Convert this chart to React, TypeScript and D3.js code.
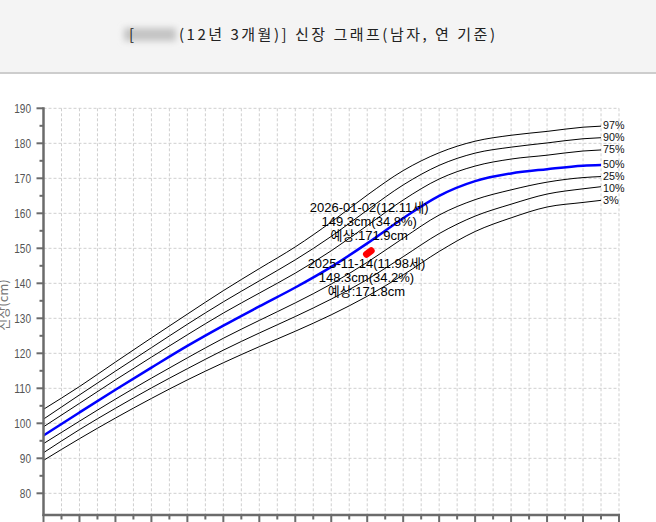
import React from "react";
import * as d3 from "d3";

const AGES = [3, 4, 5, 6, 7, 8, 9, 10, 11, 12, 13, 14, 15, 16, 17, 18, 18.5];
const P3 = [89.4, 95.6, 101.5, 107.1, 112.4, 117.3, 121.9, 126.3, 131.0, 136.3, 142.4, 149.1, 154.8, 158.7, 161.8, 163.1, 163.7];
const P10 = [91.6, 98.2, 104.3, 110.1, 115.6, 120.9, 125.8, 130.5, 135.5, 141.1, 147.6, 154.2, 159.2, 162.6, 165.5, 167.0, 167.6];
const P25 = [94.2, 100.6, 106.9, 112.9, 118.7, 124.3, 129.4, 134.4, 139.8, 146.0, 152.9, 159.5, 163.9, 166.7, 168.9, 170.2, 170.5];
const P50 = [96.5, 103.1, 109.6, 115.9, 122.1, 127.9, 133.4, 138.8, 144.7, 151.4, 158.6, 165.0, 169.2, 171.4, 172.6, 173.6, 173.8];
const P75 = [99.0, 105.7, 112.4, 118.9, 125.3, 131.5, 137.2, 142.9, 149.3, 156.5, 163.8, 169.8, 173.5, 175.5, 176.6, 177.8, 178.1];
const P90 = [101.2, 108.1, 114.9, 121.6, 128.3, 134.7, 140.7, 146.7, 153.4, 160.9, 168.1, 173.7, 177.2, 178.9, 180.1, 181.3, 181.6];
const P97 = [104.0, 110.5, 117.5, 124.4, 131.2, 137.9, 144.2, 150.4, 157.5, 165.2, 172.2, 177.3, 180.6, 182.3, 183.4, 184.6, 184.9];

const SERIES = [
  { label: "97%", values: P97 },
  { label: "90%", values: P90 },
  { label: "75%", values: P75 },
  { label: "50%", values: P50 },
  { label: "25%", values: P25 },
  { label: "10%", values: P10 },
  { label: "3%", values: P3 },
];

const CHILD_AGES = [11.98, 12.11];
const CHILD_HEIGHTS = [148.3, 149.3];
const CHILD_LINES_PREV = ["2025-11-14(11.98세)", "148.3cm(34.2%)", "예상:171.8cm"];
const CHILD_LINES_LAST = ["2026-01-02(12.11세)", "149.3cm(34.8%)", "예상:171.9cm"];

const TITLE_PREFIX = "[";
const TITLE_REST = "(12년 3개월)] 신장 그래프(남자, 연 기준)";
const Y_TITLE = "신장(cm)";

const W = 656;
const H = 522;
const X0 = 43.5;
const X1 = 619;
const Y_TOP = 108.3;
const Y_AXIS = 515;

// narrow width estimate for the condensed bitmap-like font of the original
const narrowLen = (s: string) =>
  s.split("").reduce((acc, c) => acc + (c === "%" ? 10.3 : 5.6), 0);

export default function App() {
  const x = d3.scaleLinear().domain([3, 19]).range([X0, X1]);
  const y = d3.scaleLinear().domain([80, 190]).range([493.3, Y_TOP]);

  const xTicks = d3.range(3, 19.001, 0.5);
  const yMajor = d3.range(80, 190.001, 10);
  const yMinor = d3.range(85, 186, 10);

  const line = d3
    .line<number>()
    .x((_, i) => x(AGES[i]))
    .y((v) => y(v))
    .curve(d3.curveMonotoneX);

  const sans = "'Liberation Sans', sans-serif";
  const kfont = "'Liberation Sans', 'Noto Sans CJK KR', sans-serif";

  const px0 = x(CHILD_AGES[0]);
  const py0 = y(CHILD_HEIGHTS[0]);
  const px1 = x(CHILD_AGES[1]);
  const py1 = y(CHILD_HEIGHTS[1]);
  const lastIdx = AGES.length - 1;

  // end-label positions, pushed apart so they do not collide
  const labelY: number[] = [];
  SERIES.forEach((s, i) => {
    let ly = y(s.values[lastIdx]) - 1.5;
    if (i > 0 && ly < labelY[i - 1] + 12) ly = labelY[i - 1] + 12;
    labelY.push(ly);
  });

  return (
    <div style={{ position: "absolute", left: 0, top: 0 }}>
      <svg width={W} height={H} style={{ display: "block" }}>
        <defs>
          <filter id="blurF" x="-50%" y="-50%" width="200%" height="200%">
            <feGaussianBlur stdDeviation="3" />
          </filter>
          <clipPath id="hdr">
            <rect x={0} y={0} width={W} height={72} />
          </clipPath>
        </defs>
        <rect x={0} y={0} width={W} height={H} fill="#fff" />
        {/* header */}
        <rect x={0} y={0} width={W} height={72} fill="#f4f4f4" />
        <rect x={0} y={72} width={W} height={2} fill="#cdcdcd" />
        <g clipPath="url(#hdr)">
          <rect x={124} y={28} width={52} height={13} fill="#c4c4c4" filter="url(#blurF)" />
        </g>
        <text x={129} y={40} fontFamily="'Noto Sans CJK KR', sans-serif" fontSize={15} fill="#222">
          {TITLE_PREFIX}
        </text>
        <text
          x={179}
          y={40}
          fontFamily="'Noto Sans CJK KR', sans-serif"
          fontSize={15}
          fill="#222"
          textLength={316}
          lengthAdjust="spacing"
        >
          {TITLE_REST}
        </text>

        {/* grid */}
        {yMajor.map((v) => (
          <line key={"gy" + v} x1={X0} x2={X1} y1={y(v)} y2={y(v)} stroke="#cfcfcf" strokeDasharray="3,2" />
        ))}
        {xTicks.slice(1).map((a) => (
          <line key={"gx" + a} x1={x(a)} x2={x(a)} y1={Y_TOP} y2={Y_AXIS} stroke="#cfcfcf" strokeDasharray="3,2" />
        ))}

        {/* percentile curves */}
        {SERIES.map((s) => (
          <path
            key={s.label}
            d={line(s.values) || ""}
            fill="none"
            stroke={s.label === "50%" ? "#0000ff" : "#000"}
            strokeWidth={s.label === "50%" ? 2.5 : 1}
          />
        ))}
        {SERIES.map((s, i) => (
          <text
            key={"l" + s.label}
            x={603}
            y={labelY[i]}
            dy="0.35em"
            fontFamily={sans}
            fontSize={11.5}
            fill="#111"
            textLength={narrowLen(s.label)}
            lengthAdjust="spacingAndGlyphs"
          >
            {s.label}
          </text>
        ))}

        {/* child measurement */}
        <line x1={px0} y1={py0} x2={px1} y2={py1} stroke="#ff0000" strokeWidth={7} strokeLinecap="round" />
        {CHILD_LINES_LAST.map((t, i) => (
          <text key={"a" + i} x={px1 - 2} y={py1 - 39 + i * 14} textAnchor="middle" fontFamily={kfont} fontSize={13} fill="#000">
            {t}
          </text>
        ))}
        {CHILD_LINES_PREV.map((t, i) => (
          <text key={"b" + i} x={px0} y={py0 + 14 + i * 14} textAnchor="middle" fontFamily={kfont} fontSize={13} fill="#000">
            {t}
          </text>
        ))}

        {/* y axis */}
        <line x1={X0} x2={X0} y1={Y_TOP - 1} y2={Y_AXIS + 1} stroke="#6b6b6b" strokeWidth={2.5} />
        {yMajor.map((v) => (
          <g key={"ty" + v}>
            <line x1={X0 - 7} x2={X0} y1={y(v)} y2={y(v)} stroke="#6b6b6b" strokeWidth={2} />
            <text
              x={31}
              y={y(v)}
              dy="0.35em"
              textAnchor="end"
              fontFamily={sans}
              fontSize={13}
              fill="#555"
              textLength={narrowLen(String(v))}
              lengthAdjust="spacingAndGlyphs"
            >
              {v}
            </text>
          </g>
        ))}
        {yMinor.map((v) => (
          <line key={"tm" + v} x1={X0 - 4} x2={X0} y1={y(v)} y2={y(v)} stroke="#6b6b6b" strokeWidth={2} />
        ))}
        <text
          transform={`translate(8,305) rotate(-90)`}
          textAnchor="middle"
          fontFamily="'Noto Sans CJK KR', sans-serif"
          fontSize={13}
          fill="#777"
        >
          {Y_TITLE}
        </text>

        {/* x axis */}
        <line x1={X0 - 1} x2={X1 + 1} y1={Y_AXIS} y2={Y_AXIS} stroke="#6b6b6b" strokeWidth={2.5} />
        {xTicks.map((a) => (
          <line
            key={"tx" + a}
            x1={x(a)}
            x2={x(a)}
            y1={Y_AXIS}
            y2={Y_AXIS + (Number.isInteger(a) ? 8 : 4.5)}
            stroke="#6b6b6b"
            strokeWidth={2}
          />
        ))}
      </svg>
    </div>
  );
}
